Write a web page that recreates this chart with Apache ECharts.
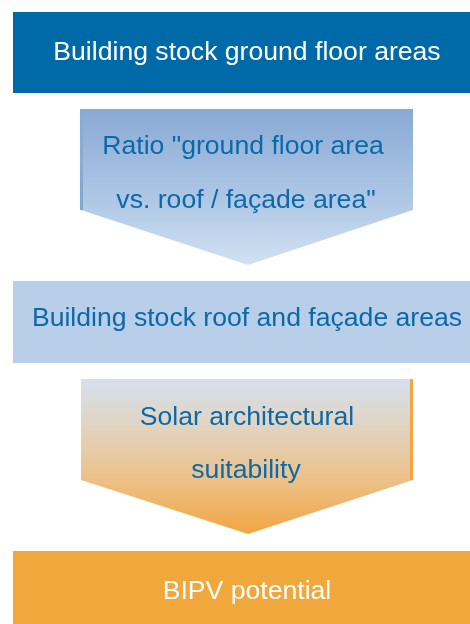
<!DOCTYPE html>
<html>
<head>
<meta charset="utf-8">
<style>html,body{margin:0;padding:0;background:#fff;}#c{width:470px;height:624px;}</style>
<script src="https://cdn.jsdelivr.net/npm/echarts@6/dist/echarts.min.js"></script>
</head>
<body>
<div id="c"></div>
<script>
// Flow steps (top to bottom)
var boxLabels = ['Building stock ground floor areas', 'Building stock roof and façade areas', 'BIPV potential'];
var arrowLines1 = ['Ratio "ground floor area', 'vs. roof / façade area"'];
var arrowLines2 = ['Solar architectural', 'suitability'];

var chart = echarts.init(document.getElementById('c'), null, {renderer: 'canvas'});
var FONT = '"Liberation Sans", Arial, sans-serif';
var FS = 26.6;

function box(y1, y2, fill) {
  return {type: 'rect', shape: {x: 13, y: y1, width: 470, height: y2 - y1}, style: {fill: fill}, silent: true};
}
function txt(s, x, y, color) {
  return {type: 'text', x: x, y: y, style: {text: s, fill: color, font: FS + 'px ' + FONT, align: 'center', verticalAlign: 'middle'}, silent: true};
}
function arrow(top, sh, tip, stops) {
  return {type: 'polygon', shape: {points: [[81, top], [413, top], [413, sh], [248, tip], [81, sh]]},
    style: {fill: new echarts.graphic.LinearGradient(0, 0, 0, 1, stops)}, silent: true};
}

var blueText = '#0b69a8';
var elements = [
  box(12, 93, '#006aa9'),
  txt(boxLabels[0], 247, 53, '#ffffff'),
  arrow(109, 210, 265, [{offset: 0, color: '#89aad5'}, {offset: 0.6, color: '#b0c8e6'}, {offset: 1, color: '#d2e1f2'}]),
  {type: 'rect', shape: {x: 80, y: 109, width: 3, height: 101}, style: {fill: new echarts.graphic.LinearGradient(0, 0, 0, 1, [{offset: 0, color: '#89aad5'}, {offset: 0.5, color: '#8aabd5'}, {offset: 1, color: '#80a6d1'}])}, silent: true},
  txt(arrowLines1[0], 243, 147, blueText),
  txt(arrowLines1[1], 246, 201, blueText),
  box(281, 363, '#b9cee9'),
  txt(boxLabels[1], 247, 319, blueText),
  arrow(379, 480, 534, [{offset: 0, color: '#d5e0ee'}, {offset: 0.3, color: '#e1d4c2'}, {offset: 0.65, color: '#ecc188'}, {offset: 1, color: '#f1a641'}]),
  {type: 'rect', shape: {x: 410, y: 379, width: 3, height: 101}, style: {fill: '#f5a443'}, silent: true},
  txt(arrowLines2[0], 247, 418, blueText),
  txt(arrowLines2[1], 246, 471, blueText),
  box(551, 624, '#f0a73c'),
  txt(boxLabels[2], 247, 592, '#ffffff')
];

chart.setOption({animation: false, graphic: {elements: elements}});
</script>
</body>
</html>
